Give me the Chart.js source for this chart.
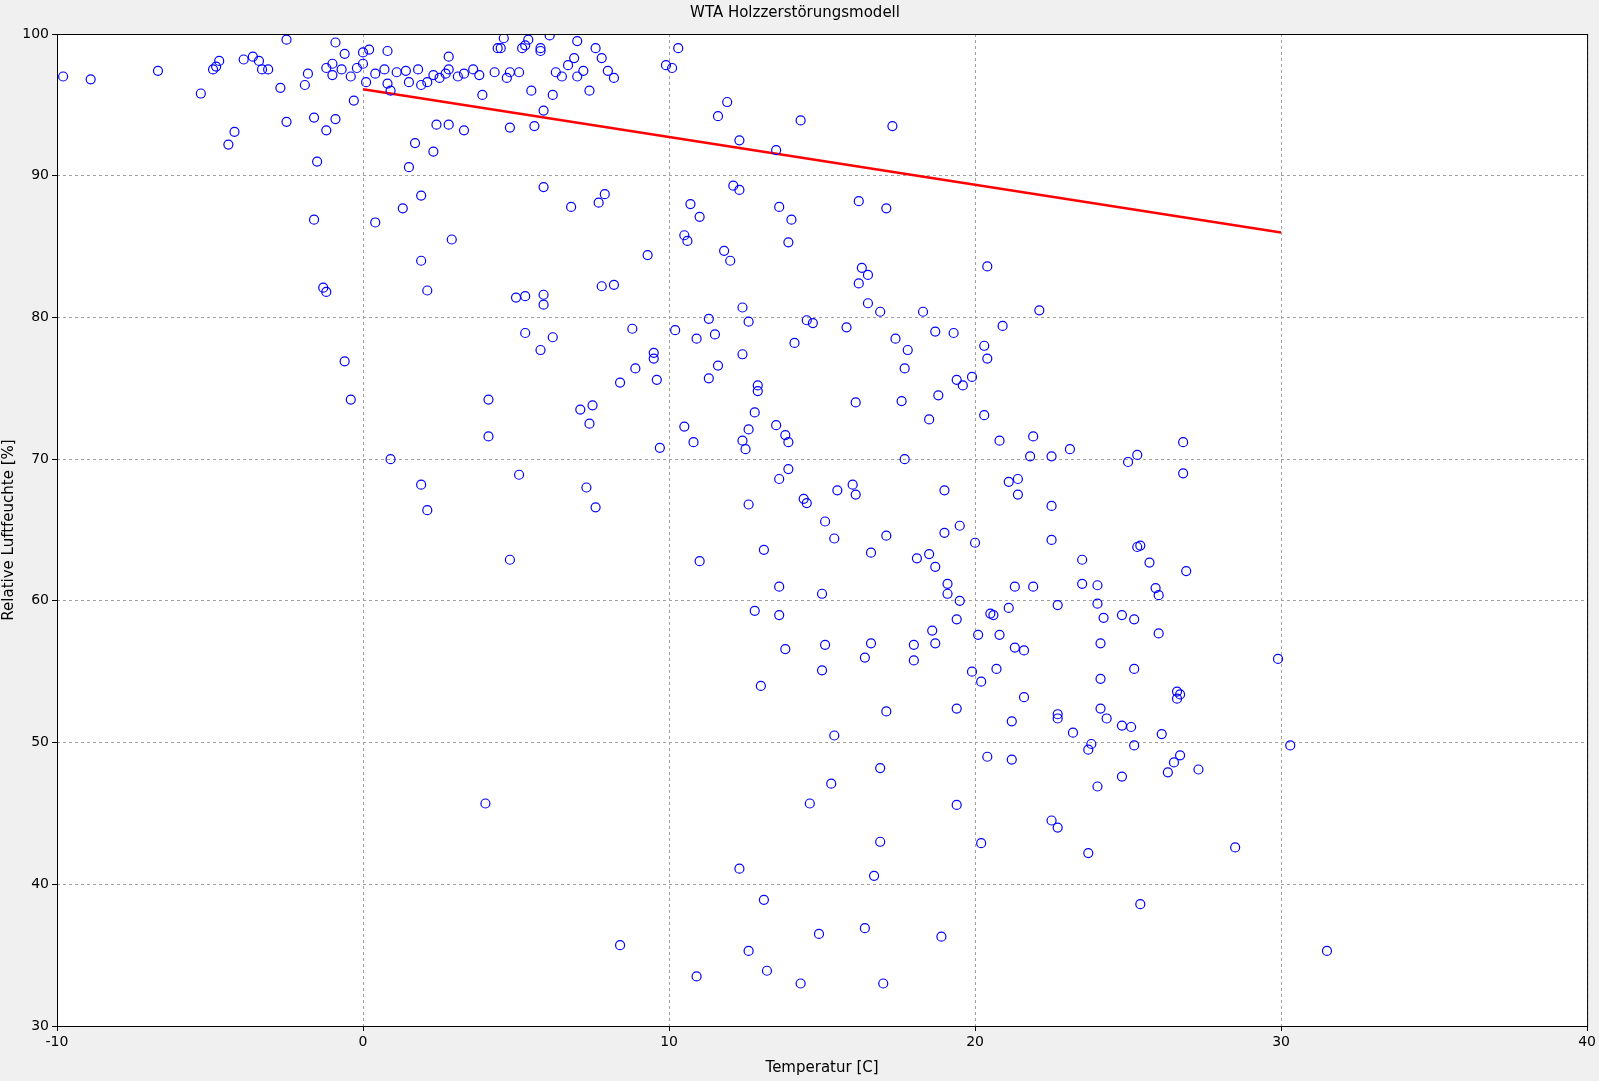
<!DOCTYPE html>
<html><head><meta charset="utf-8">
<script src="https://cdn.jsdelivr.net/npm/chart.js@4.4.0/dist/chart.umd.min.js"></script>
<style>html,body{margin:0;padding:0;background:#f0f0f0}#w{width:1599px;height:1081px}</style>
</head><body><div id="w"><canvas id="c"></canvas></div>
<script>
const chartTitle = "WTA Holzzerstörungsmodell";
const xTitle = "Temperatur [C]";
const yTitle = "Relative Luftfeuchte [%]";
const temperature = [-9.8,-8.9,-6.7,-5.3,-4.9,-4.8,-4.7,-4.4,-4.2,-3.9,-3.6,-3.4,-3.3,-3.1,-2.7,-2.5,-2.5,-1.9,-1.8,-1.6,-1.5,-1.2,-1.2,-1,-1,-0.9,-0.9,-0.7,-0.6,-0.4,-0.3,-0.2,0,0,0.1,0.2,0.4,0.7,0.8,0.8,0.9,1.1,1.4,1.5,1.8,1.9,2.1,2.3,2.5,2.7,2.8,2.8,3.1,3.3,3.6,3.8,3.9,4.3,4.4,4.5,4.6,4.7,4.8,5.1,5.2,5.3,5.4,5.5,5.8,5.8,6.1,6.2,6.3,6.5,6.7,6.9,7.0,7.0,7.2,7.4,7.6,7.8,8.0,8.2,9.9,10.1,10.3,
-1.6,-1.3,-1.2,-0.6,-0.4,0.4,0.9,1.3,1.5,1.7,1.9,1.9,2.1,2.3,2.4,2.8,2.9,3.3,1.9,2.1,4.1,4.1,4,4.8,4.8,5.0,5.1,5.3,5.3,5.6,5.9,5.9,5.9,5.9,5.8,6.2,6.8,7.1,7.3,7.4,7.5,7.6,7.7,7.8,7.9,8.2,8.4,8.4,8.8,8.9,9.3,9.5,9.5,9.6,9.7,10.2,10.5,10.5,10.6,10.7,10.8,10.9,11,11,10.9,11.3,11.3,11.5,11.6,11.6,11.8,11.9,12.0,12.1,12.3,12.3,12.3,12.4,12.4,12.4,12.5,12.6,12.6,12.6,12.6,12.8,12.8,12.9,12.9,13,13.1,13.1,13.2,13.5,13.5,13.6,13.6,13.6,13.6,13.8,13.8,13.9,13.9,13.9,14,14.1,14.3,14.4,14.5,14.5,14.3,14.6,14.7,14.9,15,15,15.1,15.1,15.3,15.4,15.5,15.4,15.8,16,16.1,16.1,16.2,16.2,16.3,16.4,16.4,16.5,16.5,16.6,16.6,16.7,16.9,16.9,16.9,17,17.1,17.1,17.1,17.3,17.4,17.6,17.7,17.7,17.8,18,18,18.1,18.3,18.5,18.5,18.6,18.7,18.7,18.8,18.7,18.9,19,19,19.1,19.1,19.3,19.4,19.4,19.4,19.4,19.5,19.5,19.6,19.9,19.9,20,20.1,20.2,20.2,20.3,20.3,20.4,20.4,20.5,20.6,20.4,20.7,20.8,20.8,20.9,21.1,21.1,21.2,21.2,21.3,21.3,21.4,21.4,21.6,21.6,21.8,21.9,21.9,22.1,22.5,22.5,22.5,22.5,22.7,22.7,22.7,22.7,23.1,23.2,23.5,23.5,23.7,23.7,23.8,24,24,24,24.1,24.1,24.1,24.2,24.3,24.8,24.8,24.8,25,25.1,25.2,25.2,25.2,25.3,25.3,25.4,25.4,25.7,25.9,26,26,26.1,26.3,26.5,26.6,26.6,26.7,26.7,26.8,26.8,26.9,27.3,28.5,29.9,30.3,31.5];
const humidity = [97,96.8,97.4,95.8,97.5,97.7,98.1,92.2,93.1,98.2,98.4,98.1,97.5,97.5,96.2,99.6,93.8,96.4,97.2,94.1,91,97.6,93.2,97.1,97.9,99.4,94,97.5,98.6,97,95.3,97.6,97.9,98.7,96.6,98.9,97.2,97.5,96.5,98.8,96,97.3,97.4,96.6,97.5,96.4,96.6,97.1,96.9,97.2,97.5,98.4,97,97.2,97.5,97.1,95.7,97.3,99,99,99.7,96.9,97.3,97.3,99,99.2,99.6,96,98.8,99,99.9,95.7,97.3,97,97.8,98.3,97,99.5,97.4,96,99,98.3,97.4,96.9,97.8,97.6,99,
86.9,82.1,81.8,76.9,74.2,86.7,70,87.7,90.6,92.3,88.6,84,81.9,91.7,93.6,93.6,85.5,93.2,68.2,66.4,74.2,71.6,45.7,62.9,93.4,81.4,68.9,81.5,78.9,93.5,94.6,89.2,81.6,80.9,77.7,78.6,87.8,73.5,68,72.5,73.8,66.6,88.1,82.2,88.7,82.3,75.4,35.7,79.2,76.4,84.4,77.5,77.1,75.6,70.8,79.1,85.8,72.3,85.4,88,71.2,78.5,87.1,62.8,33.5,79.9,75.7,78.8,76.6,94.2,84.7,95.2,84,89.3,92.5,89,41.1,80.7,77.4,71.3,70.7,72.1,79.7,66.8,35.3,73.3,59.3,75.2,74.8,54,63.6,38.9,33.9,91.8,72.4,87.8,68.6,61,59,71.7,56.6,85.3,71.2,69.3,86.9,78.2,93.9,67.2,66.9,79.8,33,45.7,79.6,36.5,60.5,55.1,65.6,56.9,47.1,64.4,67.8,50.5,79.3,68.2,67.5,74,88.2,82.4,83.5,36.9,56,83,81,63.4,57,40.6,80.4,43,48.2,33,87.7,64.6,52.2,93.5,78.5,74.1,70,76.4,77.7,56.9,55.8,63,80.4,63.3,72.8,57.9,62.4,79,74.5,57,36.3,67.8,64.8,61.2,60.5,78.9,75.6,58.7,52.4,45.6,65.3,60,75.2,75.8,55,64.1,57.6,42.9,54.3,73.1,78,77.1,83.6,59.1,59,49,55.2,71.3,57.6,79.4,68.4,59.5,51.5,48.8,61,56.7,68.6,67.5,56.5,53.2,70.2,71.6,61,80.5,70.2,66.7,64.3,44.5,59.7,52,51.7,44,70.7,50.7,62.9,61.2,49.5,42.2,49.9,61.1,59.8,46.9,57,54.5,52.4,58.8,51.7,59,51.2,47.6,69.8,51.1,55.2,58.7,49.8,70.3,63.8,63.9,38.6,62.7,60.9,60.4,57.7,50.6,47.9,48.6,53.6,53.1,53.4,49.1,71.2,69,62.1,48.1,42.6,55.9,49.8,35.3];
const modelT = [0, 30];
const modelRH = [96.1, 86.0];

const pts = temperature.map((t,i)=>({x:t,y:humidity[i]}));
const line = modelT.map((t,i)=>({x:t,y:modelRH[i]}));
const bg = {id:'bg',beforeDraw(c){const a=c.chartArea,x=c.ctx;x.save();x.fillStyle='#fff';x.fillRect(a.left,a.top,a.right-a.left,a.bottom-a.top);x.restore();},
  afterDraw(c){const a=c.chartArea,x=c.ctx;x.save();x.strokeStyle='#000';x.lineWidth=1;x.strokeRect(a.left+0.5,a.top+0.5,a.right-a.left,a.bottom-a.top);x.restore();}};
new Chart(document.getElementById('c'),{
  type:'scatter',
  data:{datasets:[
    {data:pts,pointStyle:'circle',pointRadius:4.5,pointBorderColor:'#0000ff',pointBackgroundColor:'rgba(0,0,0,0)',pointBorderWidth:1.2,showLine:false},
    {data:line,showLine:true,borderColor:'#ff0000',borderWidth:2.5,pointRadius:0}
  ]},
  options:{responsive:true,maintainAspectRatio:false,animation:false,
    layout:{padding:{left:0,right:9,top:0,bottom:4}},
    plugins:{legend:{display:false},tooltip:{enabled:false},
      title:{display:true,text:chartTitle,color:'#000',font:{family:'DejaVu Sans',size:15,weight:'normal'},padding:{top:4,bottom:12}}},
    scales:{
      x:{type:'linear',min:-10,max:40,ticks:{stepSize:10,color:'#000',font:{family:'DejaVu Sans',size:14}},
        grid:{color:'#a0a0a0',tickColor:'#000',tickLength:5},border:{display:false,dash:[3,3]},
        title:{display:true,text:xTitle,color:'#000',font:{family:'DejaVu Sans',size:15},padding:0},
        afterFit(s){s.height=51;}},
      y:{type:'linear',min:30,max:100,ticks:{stepSize:10,color:'#000',font:{family:'DejaVu Sans',size:14}},
        grid:{color:'#a0a0a0',tickColor:'#000',tickLength:5},border:{display:false,dash:[3,3]},
        title:{display:true,text:yTitle,color:'#000',font:{family:'DejaVu Sans',size:15},padding:0},
        afterFit(s){s.width=57;}}
    }},
  plugins:[bg]
});
</script></body></html>
